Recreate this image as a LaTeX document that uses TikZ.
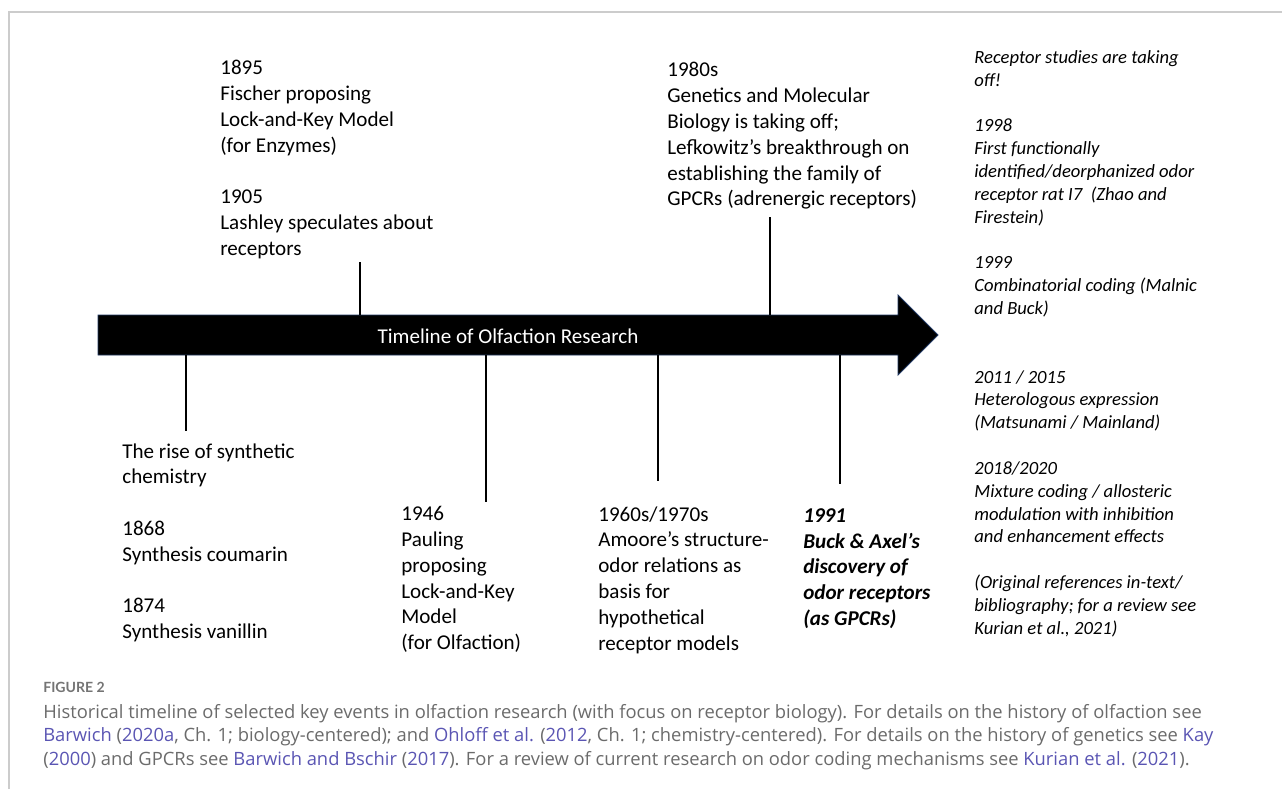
\documentclass[tikz,border=0pt]{standalone}
\usepackage{fontspec}
\setmainfont{Carlito}
\newfontfamily\capfont{Open Sans}
\newfontfamily\figfont{Lato}
\usepackage{xcolor}
\usetikzlibrary{positioning,calc}

\definecolor{framegray}{HTML}{CCCCCC}
\definecolor{capgray}{HTML}{6B6B6B}
\definecolor{figgray}{HTML}{747474}
\definecolor{linkblue}{HTML}{5A55B3}
\definecolor{arrowedge}{HTML}{1F3660}
\newcommand{\lnk}[1]{\textcolor{linkblue}{#1}}

\begin{document}
\begin{tikzpicture}[
    x=0.02cm, y=-0.02cm,
    event/.style={anchor=north west, inner sep=0pt, align=left, font=\fontsize{12}{14.7}\selectfont},
    recent/.style={anchor=north west, inner sep=0pt, align=left, font=\fontsize{10.6}{13}\selectfont\itshape},
    tick/.style={line width=1.1pt, black},
    caption/.style={anchor=north west, inner sep=0pt, align=left, text=capgray, font=\capfont\fontsize{10.45}{13.4}\selectfont}
]
    \useasboundingbox (0,0) rectangle (1282,789);
    % frame
    \draw[framegray, line width=0.8pt] (9,789) -- (9,12) -- (1282,12);

    % Timeline arrow
    \coordinate (bartop) at (98,315);
    \coordinate (barbot) at (98,355);
    \fill[black, draw=arrowedge, line width=0.5pt] (bartop) -- (898,315) -- (898,295) -- (938,335)
        -- (898,375) -- (898,355) -- (barbot) -- cycle;
    \node[text=white, font=\fontsize{12}{14.7}\selectfont] (title) at (508,336) {Timeline of Olfaction Research};

    % Events above
    \node[event] (fischer) at (220,60) {1895\\Fischer proposing\\Lock-and-Key Model\\(for Enzymes)\\[14.7pt]
        1905\\Lashley speculates about\\receptors};
    \node[event] (genetics) at (667,62) {1980s\\Genetics and Molecular\\Biology is taking off;\\Lefkowitz’s breakthrough on\\establishing the family of\\GPCRs (adrenergic receptors)};

    % Events below
    \node[event] (rise) at (122,443) {The rise of synthetic\\chemistry\\[14.7pt]
        1868\\Synthesis coumarin\\[14.7pt]1874\\Synthesis vanillin};
    \node[event] (pauling) at (401,506) {1946\\Pauling\\proposing\\Lock-and-Key\\Model\\(for Olfaction)};
    \node[event] (amoore) at (598,506) {1960s/1970s\\Amoore’s structure-\\odor relations as\\basis for\\hypothetical\\receptor models};
    \node[event, font=\fontsize{12}{14.7}\selectfont\bfseries\itshape] (buckaxel) at (803,508) {1991\\Buck \& Axel’s\\discovery of\\odor receptors\\(as GPCRs)};

    % Recent studies
    \node[recent] (recent) at (974,50) {Receptor studies are taking\\off!\\[13pt]
        1998\\First functionally\\identified/deorphanized odor\\receptor rat I7\ \ (Zhao and\\Firestein)\\[13pt]
        1999\\Combinatorial coding (Malnic\\and Buck)\\[26pt]
        2011 / 2015\\Heterologous expression\\(Matsunami / Mainland)\\[13pt]
        2018/2020\\Mixture coding / allosteric\\modulation with inhibition\\and enhancement effects\\[13pt]
        (Original references in-text/\\bibliography; for a review see\\Kurian et al., 2021)};

    % Ticks
    \coordinate (x1905) at (360,0);
    \coordinate (x1980) at (770,0);
    \coordinate (x1868) at (186,0);
    \coordinate (x1946) at (486,0);
    \coordinate (x1960) at (658,0);
    \coordinate (x1991) at (840,0);
    \draw[tick, shorten >=0.06cm] (x1905 |- bartop) -- (x1905 |- fischer.south);
    \draw[tick, shorten >=0.14cm] (x1980 |- bartop) -- (x1980 |- genetics.south);
    \draw[tick, shorten >=0.24cm] (x1868 |- barbot) -- (x1868 |- rise.north);
    \draw[tick, shorten >=0.08cm] (x1946 |- barbot) -- (x1946 |- pauling.north);
    \draw[tick, shorten >=0.5cm] (x1960 |- barbot) -- (x1960 |- amoore.north);
    \draw[tick, shorten >=0.48cm] (x1991 |- barbot) -- (x1991 |- buckaxel.north);

    % Caption
    \node[anchor=north west, inner sep=0pt, text=figgray, font=\figfont\bfseries\fontsize{8}{10}\selectfont] (figlabel) at (43,682) {FIGURE 2};
    \node[caption] (captext) at (43,704) {Historical timeline of selected key events in olfaction research (with focus on receptor biology). For details on the history of olfaction see\\
        \lnk{Barwich} (\lnk{2020a}, Ch. 1; biology-centered); and \lnk{Ohloff et al.} (\lnk{2012}, Ch. 1; chemistry-centered). For details on the history of genetics see \lnk{Kay}\\
        (\lnk{2000}) and GPCRs see \lnk{Barwich and Bschir} (\lnk{2017}). For a review of current research on odor coding mechanisms see \lnk{Kurian et al.} (\lnk{2021}).};
\end{tikzpicture}
\end{document}
